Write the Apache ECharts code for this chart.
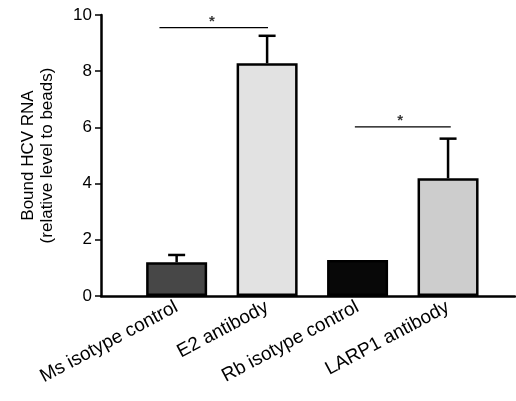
<!DOCTYPE html>
<html>
<head>
<meta charset="utf-8">
<script src="https://cdn.jsdelivr.net/npm/echarts@6/dist/echarts.min.js"></script>
<style>html,body{margin:0;padding:0;background:#fff;}#c{width:516px;height:401px;}</style>
</head>
<body>
<div id="c"></div>
<script>
// Data
var categories = ['Ms isotype control', 'E2 antibody', 'Rb isotype control', 'LARP1 antibody'];
var means = [1.2, 8.28, 1.28, 4.19];
var upperErr = [1.46, 9.26, 1.28, 5.6];
var yTicks = [0, 2, 4, 6, 8, 10];
var barColors = ['#474747', '#e2e2e2', '#080808', '#cdcdcd'];
// significance brackets: [xStart, xEnd, y]
var sigLines = [[0.81, 2.01, 9.55], [2.97, 4.03, 6.02]];
var sigStars = [[1.39, 9.55], [3.47, 6.02]];

var chart = echarts.init(document.getElementById('c'), null, {renderer: 'canvas'});
var font = 'Liberation Sans, Arial, Helvetica, sans-serif';
var positions = categories.map(function (c, i) { return i + 1; });

var option = {
  animation: false,
  backgroundColor: '#fff',
  grid: {left: 101, right: 1, top: 15, bottom: 105},
  xAxis: {
    type: 'value', min: 0.164, max: 4.74,
    splitLine: {show: false},
    axisLine: {show: true, lineStyle: {color: '#000', width: 2.5}},
    axisTick: {show: false},
    axisLabel: {
      show: true, customValues: positions, rotate: 28, margin: 10,
      fontSize: 19, color: '#000', fontFamily: font,
      formatter: function (v) { var i = Math.round(v) - 1; return categories[i] || ''; }
    }
  },
  yAxis: {
    type: 'value', min: yTicks[0], max: yTicks[yTicks.length - 1], interval: 2,
    splitLine: {show: false},
    axisLine: {show: true, onZero: false, lineStyle: {color: '#000', width: 2.5}},
    axisTick: {show: true, length: 6, lineStyle: {color: '#000', width: 1.5}},
    axisLabel: {fontSize: 17, color: '#000', fontFamily: font, margin: 9},
    name: 'Bound HCV RNA\n(relative level to beads)',
    nameLocation: 'middle', nameRotate: 90, nameGap: 44,
    nameTextStyle: {fontSize: 17, color: '#000', fontFamily: font, lineHeight: 19}
  },
  series: [
    {
      type: 'bar', barWidth: 61,
      data: means.map(function (m, i) {
        return {value: [positions[i], m], itemStyle: {color: barColors[i]}};
      }),
      itemStyle: {borderColor: '#000', borderWidth: 2.5},
      z: 2
    },
    {
      type: 'custom',
      data: means.map(function (m, i) { return [positions[i], m, upperErr[i]]; }),
      renderItem: function (params, api) {
        var x = api.value(0), lo = api.value(1), hi = api.value(2);
        if (hi <= lo) return null;
        var p0 = api.coord([x, lo]), p1 = api.coord([x, hi]);
        return {
          type: 'group',
          children: [
            {type: 'line', shape: {x1: p0[0], y1: p0[1], x2: p1[0], y2: p1[1]}, style: {stroke: '#000', lineWidth: 2.5}},
            {type: 'line', shape: {x1: p1[0] - 8.5, y1: p1[1], x2: p1[0] + 8.5, y2: p1[1]}, style: {stroke: '#000', lineWidth: 2.5}}
          ]
        };
      },
      z: 3
    },
    {
      type: 'custom',
      data: sigLines,
      renderItem: function (params, api) {
        var a = api.coord([api.value(0), api.value(2)]);
        var b = api.coord([api.value(1), api.value(2)]);
        return {type: 'line', shape: {x1: a[0], y1: a[1], x2: b[0], y2: b[1]}, style: {stroke: '#000', lineWidth: 1.2}};
      },
      z: 3
    },
    {
      type: 'scatter',
      data: sigStars,
      symbolSize: 0,
      label: {show: true, formatter: '*', position: 'top', distance: -2, fontSize: 15, fontWeight: 'bold', color: '#000', fontFamily: font},
      z: 4
    }
  ]
};
chart.setOption(option);
</script>
</body>
</html>
